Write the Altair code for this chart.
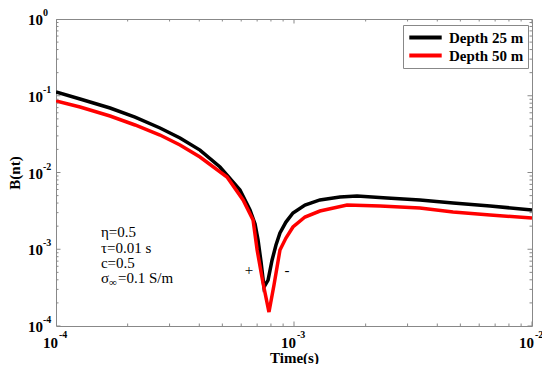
import altair as alt
import pandas as pd

# ---- data ----
t_black = [1.000e-4, 1.262e-4, 1.687e-4, 2.148e-4, 2.735e-4, 3.319e-4, 4.027e-4, 4.887e-4,
           5.93e-4, 6.533e-4, 6.86e-4, 7.063e-4, 7.27e-4, 7.48e-4, 7.78e-4, 8.09e-4, 8.40e-4,
           8.73e-4, 9.25e-4, 9.90e-4, 1.112e-3, 1.285e-3, 1.560e-3, 1.840e-3, 2.46e-3,
           3.38e-3, 4.66e-3, 6.67e-3, 1.0e-2]
b_black = [0.112, 0.0907, 0.0692, 0.0528, 0.0380, 0.0282, 0.0196, 0.0118,
           5.91e-3, 3.25e-3, 2.13e-3, 1.32e-3, 6.83e-4, 3.22e-4, 3.97e-4, 7.24e-4, 1.136e-3,
           1.63e-3, 2.26e-3, 2.97e-3, 3.77e-3, 4.39e-3, 4.80e-3, 4.94e-3, 4.66e-3,
           4.39e-3, 4.01e-3, 3.66e-3, 3.25e-3]

t_red = [1.000e-4, 1.262e-4, 1.687e-4, 2.148e-4, 2.735e-4, 3.319e-4, 4.027e-4, 5.23e-4,
         6.11e-4, 6.73e-4, 7.0e-4, 7.41e-4, 7.85e-4, 8.24e-4, 8.73e-4, 9.25e-4, 9.90e-4,
         1.112e-3, 1.285e-3, 1.671e-3, 2.30e-3, 3.38e-3, 4.66e-3, 6.67e-3, 1.0e-2]
b_red = [0.0855, 0.0714, 0.0545, 0.0416, 0.0308, 0.0228, 0.0159, 0.00873,
         0.00438, 0.00240, 9.78e-4, 3.63e-4, 1.52e-4, 3.42e-4, 9.78e-4, 1.40e-3, 1.95e-3,
         2.63e-3, 3.15e-3, 3.77e-3, 3.66e-3, 3.45e-3, 3.06e-3, 2.79e-3, 2.55e-3]

series_names = ["Depth 25 m", "Depth 50 m"]
series_colors = ["#000000", "#ff0000"]

x_decades = [1e-4, 1e-3, 1e-2]
x_exponents = ["-4", "-3", "-2"]
y_decades = [1e-4, 1e-3, 1e-2, 1e-1, 1.0]
y_exponents = ["-4", "-3", "-2", "-1", "0"]

param_lines = ["η=0.5", "τ=0.01 s", "c=0.5"]
param_b = [1.68e-3, 1.04e-3, 6.62e-4]
sigma_b = 4.22e-4
param_t = 1.545e-4
sign_labels = ["+", "-"]
sign_t = [6.47e-4, 9.35e-4]
sign_b = [5.37e-4, 5.37e-4]

X_DOMAIN = [1e-4, 1e-2]
Y_DOMAIN = [1e-4, 1.0]
FONT = "Liberation Serif"
FRAME = "#888888"

# ---- tables ----
lines = pd.concat([
    pd.DataFrame({"t": t_black, "b": b_black, "series": series_names[0], "o": range(len(t_black))}),
    pd.DataFrame({"t": t_red, "b": b_red, "series": series_names[1], "o": range(len(t_red))}),
])

x_ticks = [k * d for d in [1e-4, 1e-3] for k in range(1, 10)] + [1e-2]
y_ticks = [k * d for d in [1e-4, 1e-3, 1e-2, 1e-1] for k in range(1, 10)] + [1.0]
def tick_len(v_list, majors):
    return [9 if any(abs(v - m) / m < 1e-9 for m in majors) else 5 for v in v_list]

xt_len = tick_len(x_ticks, x_decades)
yt_len = tick_len(y_ticks, y_decades)
tick_bottom = pd.DataFrame({"t": x_ticks, "b": Y_DOMAIN[0], "len": xt_len})
tick_top = pd.DataFrame({"t": x_ticks, "b": Y_DOMAIN[1], "len": xt_len})
tick_left = pd.DataFrame({"t": X_DOMAIN[0], "b": y_ticks, "len": yt_len})
tick_right = pd.DataFrame({"t": X_DOMAIN[1], "b": y_ticks, "len": yt_len})

xlab = pd.DataFrame({"t": x_decades, "b": Y_DOMAIN[0], "base": "10", "exp": x_exponents})
ylab = pd.DataFrame({"t": X_DOMAIN[0], "b": y_decades, "base": "10", "exp": y_exponents})

params = pd.DataFrame({"t": param_t, "b": param_b, "txt": param_lines})
sigma = pd.DataFrame({"t": [param_t], "b": [sigma_b]})
signs = pd.DataFrame({"t": sign_t, "b": sign_b, "txt": sign_labels})

xs = alt.Scale(type="log", domain=X_DOMAIN)
ys = alt.Scale(type="log", domain=Y_DOMAIN)

x_axis = alt.Axis(labels=False, ticks=False, grid=False, domain=False, title="Time(s)",
                  titleFont=FONT, titleFontSize=15, titleFontWeight="bold",
                  titleColor="black", titlePadding=24)
y_axis = alt.Axis(labels=False, ticks=False, grid=False, domain=False, title="B(nt)",
                  titleFont=FONT, titleFontSize=15, titleFontWeight="bold",
                  titleColor="black", titlePadding=34)

def X():
    return alt.X("t:Q", scale=xs, axis=x_axis)

def Y():
    return alt.Y("b:Q", scale=ys, axis=y_axis)

line_layer = alt.Chart(lines).mark_line(strokeWidth=3.5, clip=True).encode(
    x=X(),
    y=Y(),
    order="o:Q",
    color=alt.Color("series:N",
                    scale=alt.Scale(domain=series_names, range=series_colors),
                    legend=alt.Legend(title=None, orient="none", legendX=347, legendY=6,
                                      strokeColor=FRAME, fillColor="white", padding=4,
                                      symbolType="stroke", symbolSize=1050,
                                      symbolStrokeWidth=4, clipHeight=17, rowPadding=1,
                                      labelFont=FONT, labelFontSize=15,
                                      labelFontWeight="bold", labelColor="black",
                                      labelOffset=5, cornerRadius=0)),
)

def tick_layer(df, orient):
    return alt.Chart(df).mark_tick(orient=orient, thickness=1, color=FRAME, clip=True,
                                   opacity=1).encode(
        x=X(), y=Y(), size=alt.Size("len:Q", scale=None, legend=None))

text_kw = dict(font=FONT, color="black")
xlab_base = alt.Chart(xlab).mark_text(align="right", baseline="alphabetic", dx=2, dy=22,
                                      fontSize=15, fontWeight="bold", **text_kw).encode(
    x=X(), y=Y(), text="base:N")
xlab_exp = alt.Chart(xlab).mark_text(align="left", baseline="alphabetic", dx=3, dy=12,
                                     fontSize=10, fontWeight="bold", **text_kw).encode(
    x=X(), y=Y(), text="exp:N")
ylab_base = alt.Chart(ylab).mark_text(align="right", baseline="middle", dx=-13, dy=1,
                                      fontSize=15, fontWeight="bold", **text_kw).encode(
    x=X(), y=Y(), text="base:N")
ylab_exp = alt.Chart(ylab).mark_text(align="left", baseline="middle", dx=-13, dy=-6,
                                     fontSize=10, fontWeight="bold", **text_kw).encode(
    x=X(), y=Y(), text="exp:N")

param_layer = alt.Chart(params).mark_text(align="left", baseline="middle", fontSize=15,
                                          **text_kw).encode(x=X(), y=Y(), text="txt:N")
sig1 = alt.Chart(sigma).mark_text(align="left", baseline="middle", fontSize=15, text="σ",
                                  **text_kw).encode(x=X(), y=Y())
sig2 = alt.Chart(sigma).mark_text(align="left", baseline="middle", fontSize=11, text="∞",
                                  dx=8, dy=5, **text_kw).encode(x=X(), y=Y())
sig3 = alt.Chart(sigma).mark_text(align="left", baseline="middle", fontSize=15,
                                  text="=0.1 S/m", dx=17, **text_kw).encode(x=X(), y=Y())
sign_layer = alt.Chart(signs).mark_text(align="center", baseline="middle", fontSize=15,
                                        **text_kw).encode(x=X(), y=Y(), text="txt:N")

chart = alt.layer(
    line_layer,
    tick_layer(tick_bottom, "vertical"), tick_layer(tick_top, "vertical"),
    tick_layer(tick_left, "horizontal"), tick_layer(tick_right, "horizontal"),
    xlab_base, xlab_exp, ylab_base, ylab_exp,
    param_layer, sig1, sig2, sig3, sign_layer,
).properties(
    width=476, height=307,
    autosize=alt.AutoSizeParams(type="none"),
    padding={"left": 48, "top": 11, "right": 10, "bottom": 38},
    background="white",
).configure_view(stroke=FRAME, strokeWidth=1)

chart.save("out.html", embed_options={"renderer": "svg", "actions": False})
